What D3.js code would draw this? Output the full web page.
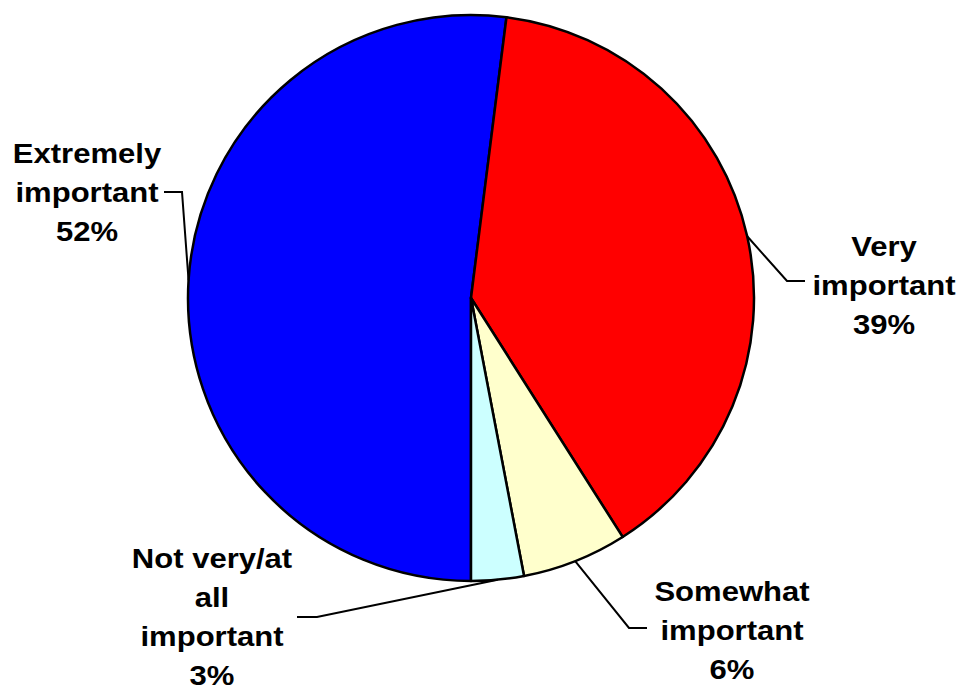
<!DOCTYPE html>
<html>
<head>
<meta charset="utf-8">
<script src="https://cdn.jsdelivr.net/npm/d3@7"></script>
<style>
body { margin: 0; background: #fff; }
</style>
</head>
<body>
<script>
var categories = ['Extremely important', 'Very important', 'Somewhat important', 'Not very/at all important']
var values = [52, 39, 6, 3]
var colors = ['#0000ff', '#ff0000', '#ffffcc', '#ccffff']
var labelLines = [
	['Extremely', 'important', '52%'],
	['Very', 'important', '39%'],
	['Somewhat', 'important', '6%'],
	['Not very/at', 'all', 'important', '3%']
]

// label layout: text centre x, first baseline y, leader elbow point and end point
var labelPos = [
	{ x: 87, y: 163, elbow: [182, 192], end: [164, 192] },
	{ x: 884, y: 256, elbow: [787, 281], end: [805, 281] },
	{ x: 732, y: 601, elbow: [629, 628], end: [647, 628] },
	{ x: 212, y: 568, elbow: [317, 617], end: [297, 617] }
]

var width = 959, height = 690
var cx = 471, cy = 298, radius = 283

var svg = d3.select('body').append('svg')
	.attr('width', width)
	.attr('height', height)

var pie = d3.pie().sort(null).value(function(d){ return d })
	.startAngle(Math.PI).endAngle(Math.PI * 3)
var arcs = pie(values)
var arc = d3.arc().innerRadius(0).outerRadius(radius)

var g = svg.append('g').attr('transform', 'translate(' + cx + ',' + cy + ')')

g.selectAll('.slice').data(arcs).enter().append('path')
	.attr('class', 'slice')
	.attr('d', arc)
	.style('fill', function(d, i){ return colors[i] })
	.style('stroke', '#000')
	.style('stroke-width', 2.5)
	.style('stroke-linejoin', 'round')

// leader lines
arcs.forEach(function(d, i){
	var a = (d.startAngle + d.endAngle) / 2
	var sx = cx + radius * Math.sin(a)
	var sy = cy - radius * Math.cos(a)
	var p = labelPos[i]
	svg.append('polyline')
		.attr('points', [[sx, sy], p.elbow, p.end].map(function(q){ return q.join(',') }).join(' '))
		.style('fill', 'none')
		.style('stroke', '#000')
		.style('stroke-width', 2)
})

// labels (slightly widened, like the original)
labelLines.forEach(function(lines, i){
	var p = labelPos[i]
	var t = svg.append('text')
		.attr('transform', 'translate(' + p.x + ',' + p.y + ') scale(1.15,1)')
		.attr('text-anchor', 'middle')
		.style('font-family', 'Liberation Sans, Arial, sans-serif')
		.style('font-weight', 'bold')
		.style('font-size', '27px')
		.style('fill', '#000')
	lines.forEach(function(s, j){
		t.append('tspan').attr('x', 0).attr('y', j * 39).text(s)
	})
})
</script>
</body>
</html>
